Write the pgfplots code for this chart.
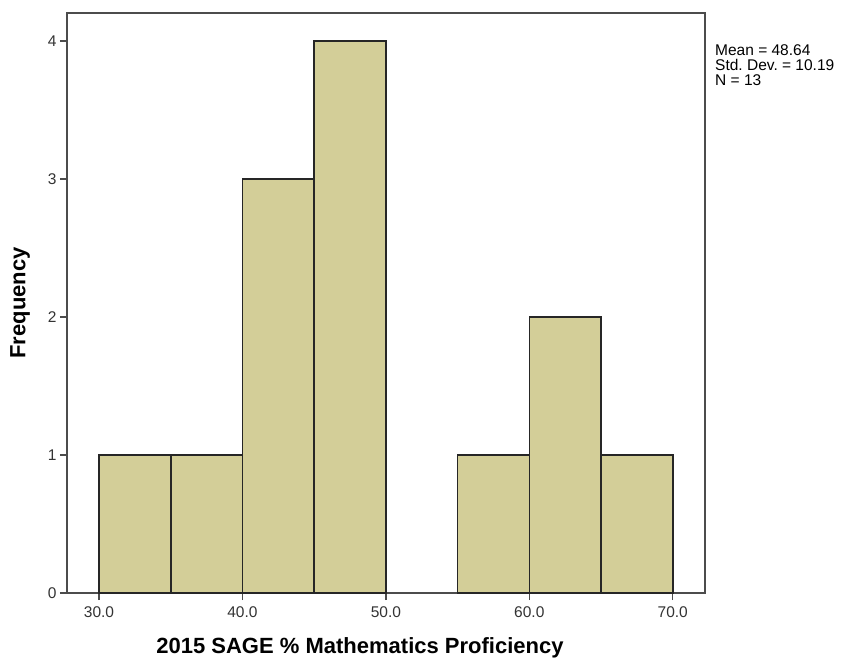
\documentclass[border=0pt]{standalone}
\usepackage{pgfplots}
\pgfplotsset{compat=1.18}
\usepackage{fontspec}
\setmainfont{Liberation Sans}
\definecolor{barfill}{RGB}{211,206,152}
\begin{document}
\begin{tikzpicture}[x=1pt,y=1pt]
\path[use as bounding box] (-67pt,-69pt) rectangle (778pt,593pt);
\begin{axis}[
  at={(0pt,0pt)}, anchor=south west,
  scale only axis, width=638pt, height=580pt,
  xmin=27.77, xmax=72.25, ymin=0, ymax=4.203,
  xtick={30,40,50,60,70},
  xticklabels={30.0,40.0,50.0,60.0,70.0},
  ytick={0,1,2,3,4},
  tick align=outside, tick pos=left,
  major tick length=7pt,
  axis line style={line width=1.6pt, black!70},
  every tick/.style={line width=1.3pt, black!70},
  tick label style={font=\fontsize{15.5}{17}\selectfont, text=black!80},
  x tick label style={yshift=-3pt},
  /pgf/number format/assume math mode=true,
  clip=false,
]
\addplot[ybar interval, fill=barfill, draw=black!85, line width=1.6pt]
  coordinates {(30,1)(35,1)(40,3)(45,4)(50,4)};
\addplot[ybar interval, fill=barfill, draw=black!85, line width=1.6pt]
  coordinates {(55,1)(60,2)(65,1)(70,1)};
\end{axis}
\node[anchor=center, font=\fontsize{22}{24}\selectfont\bfseries] at (293pt,-55pt)
  {2015 SAGE \% Mathematics Proficiency};
\node[anchor=center, rotate=90, font=\fontsize{22}{24}\selectfont\bfseries] at (-47pt,290pt)
  {Frequency};
\node[anchor=north west, align=left, inner sep=0pt, font=\fontsize{15.5}{15}\selectfont]
  at (648pt,549pt) {Mean = 48.64\\Std.\ Dev.\ = 10.19\\N = 13};
\end{tikzpicture}
\end{document}
